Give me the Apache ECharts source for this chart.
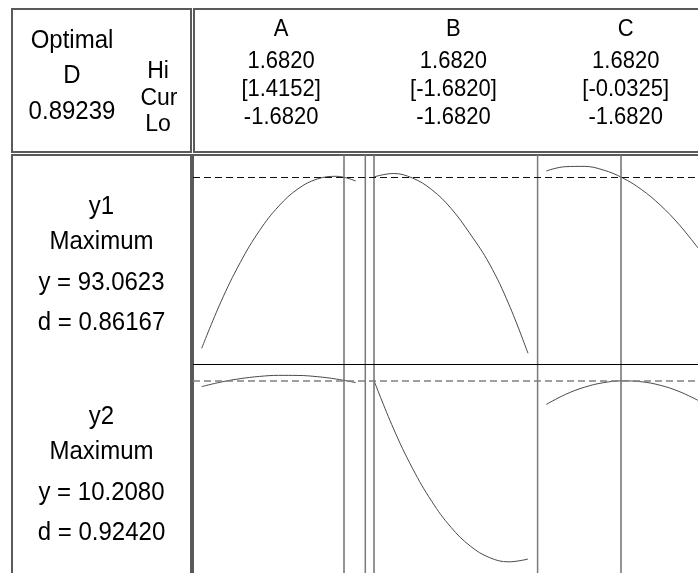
<!DOCTYPE html>
<html><head><meta charset="utf-8">
<script src="https://cdn.jsdelivr.net/npm/echarts@6/dist/echarts.min.js"></script>
<style>html,body{margin:0;padding:0;background:#fff}#c{width:698px;height:573px}</style>
</head><body><div id="c"></div><script>
// ---- data ----
const factors = ['A', 'B', 'C'];
const hiVals = ['1.6820', '1.6820', '1.6820'];
const curLabels = ['[1.4152]', '[-1.6820]', '[-0.0325]'];
const loVals = ['-1.6820', '-1.6820', '-1.6820'];
const curSettings = [1.4152, -1.6820, -0.0325];
const factorLo = -1.682, factorHi = 1.682;
const optimalD = '0.89239';
const responses = ['y1', 'y2'];
const goals = ['Maximum', 'Maximum'];
const yPredLabels = ['93.0623', '10.2080'];
const dLabels = ['0.86167', '0.92420'];
const yPred = [93.0623, 10.2080];
const xSamples = [-1.682, -1.2615, -0.841, -0.4205, 0, 0.4205, 0.841, 1.2615, 1.682];
const y1A = [71.66, 77.47, 82.36, 86.35, 89.41, 91.57, 92.80, 93.14, 92.55];
const y1B = [93.06, 93.49, 92.92, 91.47, 89.14, 85.93, 82.19, 77.19, 71.04];
const y1C = [93.80, 94.34, 94.38, 93.93, 92.97, 91.52, 89.57, 87.12, 84.19];
const y2A = [10.006, 10.158, 10.272, 10.347, 10.383, 10.380, 10.339, 10.258, 10.140];
const y2B = [10.208, 8.616, 7.268, 6.161, 5.292, 4.664, 4.277, 4.134, 4.227];
const y2C = [9.409, 9.741, 9.983, 10.136, 10.198, 10.170, 10.052, 9.844, 9.546];
const curves = [[y1A, y1B, y1C], [y2A, y2B, y2C]];
const rowRanges = [[69.7, 95.8], [3.76, 10.73]];

// ---- layout ----
const FONT = '"Liberation Sans", Arial, sans-serif';
const panelW = 172.3, curveL = 201.7, curveW = 154;
const rowTop = [155, 365], rowH = 209;

const grids = [], xAxes = [], yAxes = [], series = [];
for (let r = 0; r < 2; r++) {
  for (let c = 0; c < 3; c++) {
    const gi = grids.length;
    grids.push({left: curveL + c * panelW, width: curveW, top: rowTop[r], height: rowH, show: false});
    xAxes.push({type: 'value', gridIndex: gi, min: factorLo, max: factorHi, show: false});
    yAxes.push({type: 'value', gridIndex: gi, min: rowRanges[r][0], max: rowRanges[r][1], show: false});
    series.push({
      type: 'line', xAxisIndex: gi, yAxisIndex: gi, smooth: 0.4, symbol: 'none', silent: true,
      data: xSamples.map((x, i) => [x, curves[r][c][i]]),
      lineStyle: {color: '#4a4a4a', width: 1},
      markLine: {silent: true, symbol: 'none', label: {show: false},
        lineStyle: {color: '#6f6f6f', width: 1.5, type: 'solid'},
        data: [{xAxis: curSettings[c]}]}
    });
  }
}
// full-width grids for the horizontal dashed reference lines
for (let r = 0; r < 2; r++) {
  const gi = grids.length;
  grids.push({left: 193, width: 520, top: rowTop[r], height: rowH, show: false});
  xAxes.push({type: 'value', gridIndex: gi, min: 0, max: 1, show: false});
  yAxes.push({type: 'value', gridIndex: gi, min: rowRanges[r][0], max: rowRanges[r][1], show: false});
  series.push({
    type: 'line', xAxisIndex: gi, yAxisIndex: gi, symbol: 'none', silent: true, data: [],
    markLine: {silent: true, symbol: 'none', label: {show: false},
      lineStyle: {color: r === 0 ? '#111' : '#808080', width: r === 0 ? 1 : 1.5, type: [7, 4]},
      data: [{yAxis: yPred[r]}]}
  });
}

const graphics = [];
function box(x, y, w, h) {
  graphics.push({type: 'rect', z: 5, shape: {x, y, width: w, height: h},
    style: {fill: 'none', stroke: '#5a5a5a', lineWidth: 2}});
}
function txt(s, x, y, size, sy) {
  graphics.push({type: 'text', z: 6, x, y, scaleY: sy || 1,
    style: {text: s, fill: '#000', font: size + 'px ' + FONT, textAlign: 'center', textVerticalAlign: 'middle'}});
}
function line(x1, y1, x2, y2, color, w) {
  graphics.push({type: 'line', z: 5, shape: {x1, y1, x2, y2}, style: {stroke: color, lineWidth: w}});
}
box(12, 9, 179, 143);
box(194, 9, 600, 143);
box(12, 155, 179, 500);
box(193, 155, 600, 500);
line(193 + panelW, 155, 193 + panelW, 573, '#7a7a7a', 1.5);
line(193 + 2 * panelW, 155, 193 + 2 * panelW, 573, '#7a7a7a', 1.5);
line(193, 364.5, 698, 364.5, '#000', 1);

txt('Optimal', 72, 41, 24, 1.05);
txt('D', 72, 76, 24, 1.05);
txt(optimalD, 72, 112, 24, 1.05);
txt('Hi', 158, 71.5, 23, 1.08);
txt('Cur', 159, 98.5, 23, 1.08);
txt('Lo', 158, 124, 23, 1.08);
for (let c = 0; c < 3; c++) {
  const cx = 193 + panelW * (c + 0.5) + 2;
  txt(factors[c], cx, 29, 22, 1.12);
  txt(hiVals[c], cx, 61, 22, 1.12);
  txt(curLabels[c], cx, 89, 22, 1.12);
  txt(loVals[c], cx, 117, 22, 1.12);
}
for (let r = 0; r < 2; r++) {
  const base = r === 0 ? 207 : 417;
  txt(responses[r], 101.5, base, 24, 1.05);
  txt(goals[r], 101.5, base + 35, 24, 1.05);
  txt('y = ' + yPredLabels[r], 101.5, base + 76, 24, 1.05);
  txt('d = ' + dLabels[r], 101.5, base + 116, 24, 1.05);
}

const chart = echarts.init(document.getElementById('c'), null, {renderer: 'canvas'});
chart.setOption({
  animation: false, backgroundColor: '#fff',
  grid: grids, xAxis: xAxes, yAxis: yAxes, series, graphic: graphics
});
</script></body></html>
